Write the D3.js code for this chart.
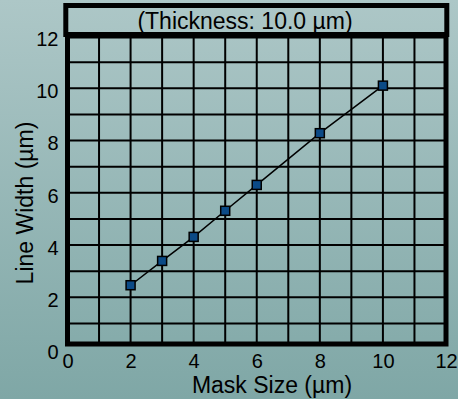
<!DOCTYPE html>
<html><head><meta charset="utf-8">
<script src="https://cdn.jsdelivr.net/npm/d3@7"></script>
<style>
html,body{margin:0;padding:0;}
svg{display:block;font-family:"Liberation Sans",Arial,sans-serif;}
</style></head>
<body>
<script>
const maskSize = [2, 3, 4, 5, 6, 8, 10];
const lineWidth = [2.46, 3.39, 4.31, 5.31, 6.30, 8.28, 10.1];
const xTicks = [0, 2, 4, 6, 8, 10, 12];
const yTicks = [0, 2, 4, 6, 8, 10, 12];
const gridVals = d3.range(1, 12);
const subtitle = "(Thickness: 10.0 µm)";
const xTitle = "Mask Size (µm)";
const yTitle = "Line Width (µm)";

const W = 458, H = 399;
const svg = d3.select("body").append("svg").attr("width", W).attr("height", H);
const defs = svg.append("defs");
const grad = defs.append("linearGradient").attr("id", "bg").attr("x1", 0).attr("y1", 0).attr("x2", 0).attr("y2", 1);
grad.append("stop").attr("offset", "0%").attr("stop-color", "#adc7c7");
grad.append("stop").attr("offset", "100%").attr("stop-color", "#7fa7a6");
svg.append("rect").attr("width", W).attr("height", H).attr("fill", "url(#bg)");

const x = d3.scaleLinear().domain([0, 12]).range([67.5, 446]);
const y = d3.scaleLinear().domain([0, 12]).range([349.5, 36]);
const plotBottom = 344;

// gridlines
const g = svg.append("g");
g.selectAll(".vg").data(gridVals).join("line")
  .attr("x1", d => x(d)).attr("x2", d => x(d))
  .attr("y1", y(12)).attr("y2", plotBottom)
  .attr("stroke", "#000").attr("stroke-width", 2);
g.selectAll(".hg").data(gridVals).join("line")
  .attr("y1", d => y(d)).attr("y2", d => y(d))
  .attr("x1", x(0)).attr("x2", x(12))
  .attr("stroke", "#000").attr("stroke-width", 2);

// frame
g.append("rect").attr("x", x(0)).attr("y", y(12))
  .attr("width", x(12) - x(0)).attr("height", plotBottom - y(12))
  .attr("fill", "none").attr("stroke", "#000").attr("stroke-width", 5);

// title box
svg.append("rect").attr("x", 65.8).attr("y", 5.5).attr("width", 381).attr("height", 29)
  .attr("fill", "none").attr("stroke", "#000").attr("stroke-width", 5);
svg.append("text").attr("x", 245).attr("y", 29).attr("text-anchor", "middle")
  .attr("font-size", 23).attr("fill", "#000").text(subtitle);

// axes labels via d3 axes
const xAxis = svg.append("g").attr("transform", `translate(0,${plotBottom})`)
  .call(d3.axisBottom(x).tickValues(xTicks).tickSize(0).tickPadding(10).tickFormat(d3.format("d")));
xAxis.select(".domain").remove();
xAxis.selectAll("text").attr("font-size", 20).attr("font-family", "Liberation Sans, Arial, sans-serif").attr("fill", "#000");

const yAxis = svg.append("g").attr("transform", `translate(${x(0)},3)`)
  .call(d3.axisLeft(y).tickValues(yTicks).tickSize(0).tickPadding(9).tickFormat(d3.format("d")));
yAxis.select(".domain").remove();
yAxis.selectAll("text").attr("font-size", 20).attr("font-family", "Liberation Sans, Arial, sans-serif").attr("fill", "#000");

svg.append("text").attr("x", 272).attr("y", 393).attr("text-anchor", "middle")
  .attr("font-size", 23).text(xTitle);
svg.append("text").attr("transform", "translate(33,203) rotate(-90)").attr("text-anchor", "middle")
  .attr("font-size", 23).text(yTitle);

// line and markers
const pts = maskSize.map((m, i) => [m, lineWidth[i]]);
svg.append("path").datum(pts)
  .attr("d", d3.line().x(d => x(d[0])).y(d => y(d[1])))
  .attr("fill", "none").attr("stroke", "#000").attr("stroke-width", 1.5);
svg.selectAll(".pt").data(pts).join("rect")
  .attr("x", d => x(d[0]) - 4.5).attr("y", d => y(d[1]) - 4.5)
  .attr("width", 9).attr("height", 9)
  .attr("fill", "#0b4a86").attr("stroke", "#000").attr("stroke-width", 1.5);
</script>
</body></html>
